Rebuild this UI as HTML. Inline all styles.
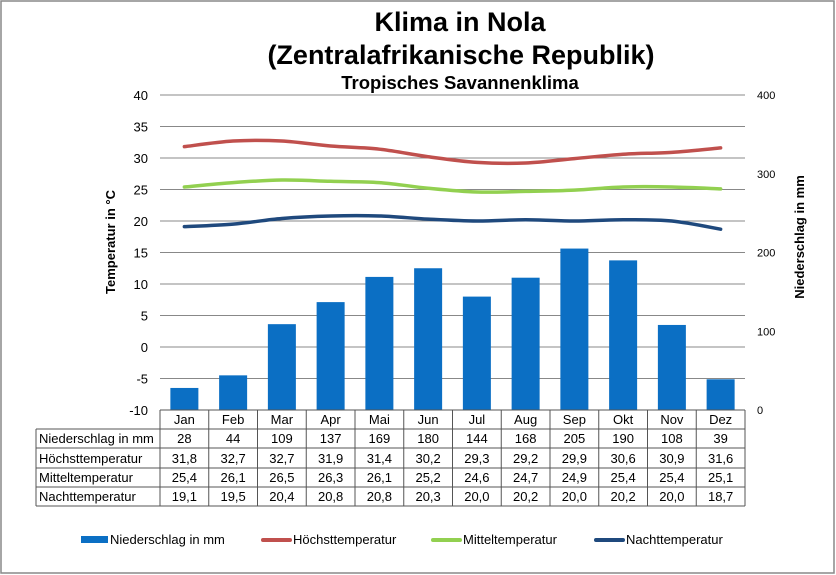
<!DOCTYPE html>
<html><head><meta charset="utf-8"><style>
body{margin:0;background:#fff;}
svg{display:block;font-family:"Liberation Sans",sans-serif;}
</style></head><body>
<svg id="s" width="836" height="575" xmlns="http://www.w3.org/2000/svg">
<rect x="1" y="1" width="833" height="572" fill="#fff" stroke="#888" stroke-width="1.5"/>
<text x="460" y="31" font-size="27" font-weight="bold" text-anchor="middle">Klima in Nola</text>
<text x="461" y="64" font-size="27" font-weight="bold" text-anchor="middle">(Zentralafrikanische Republik)</text>
<text x="460" y="89" font-size="18.5" font-weight="bold" text-anchor="middle">Tropisches Savannenklima</text>
<text transform="translate(115,242) rotate(-90)" font-size="13" font-weight="bold" text-anchor="middle">Temperatur in °C</text>
<text transform="translate(804,237) rotate(-90)" font-size="13" font-weight="bold" text-anchor="middle">Niederschlag in mm</text>
<g id="g"></g>
</svg>
<script>
const g=document.getElementById('g');let h='';
const L=160,R=745,cw=(R-L)/12;
const Y=t=>347-t*6.3, P=m=>410-m*0.7875;
for(let t=-10;t<=40;t+=5){h+=`<text x="148" y="${Y(t)+5}" font-size="13" text-anchor="end">${t}</text>`;
 if(t>-10)h+=`<line x1="${L}" x2="${R}" y1="${Y(t)}" y2="${Y(t)}" stroke="#888" stroke-width="1"/>`;}
for(let m=0;m<=400;m+=100)h+=`<text x="757" y="${P(m)+4}" font-size="11">${m}</text>`;
const mon=['Jan','Feb','Mar','Apr','Mai','Jun','Jul','Aug','Sep','Okt','Nov','Dez'];
const N=[28,44,109,137,169,180,144,168,205,190,108,39];
const Hh=[31.8,32.7,32.7,31.9,31.4,30.2,29.3,29.2,29.9,30.6,30.9,31.6];
const M=[25.4,26.1,26.5,26.3,26.1,25.2,24.6,24.7,24.9,25.4,25.4,25.1];
const Nt=[19.1,19.5,20.4,20.8,20.8,20.3,20.0,20.2,20.0,20.2,20.0,18.7];
const cx=i=>L+cw*(i+0.5);
N.forEach((v,i)=>{h+=`<rect x="${cx(i)-14}" y="${P(v)}" width="28" height="${410-P(v)}" fill="#0b6fc4"/>`;});
function curve(d,col){let pts=d.map((v,i)=>[cx(i),Y(v)]);let s=`M${pts[0]}`;
 for(let i=0;i<pts.length-1;i++){const p0=pts[i-1]||pts[i],p1=pts[i],p2=pts[i+1],p3=pts[i+2]||p2;
 const c1=[p1[0]+(p2[0]-p0[0])/6,p1[1]+(p2[1]-p0[1])/6],c2=[p2[0]-(p3[0]-p1[0])/6,p2[1]-(p3[1]-p1[1])/6];
 s+=` C${c1} ${c2} ${p2}`;}
 return `<path d="${s}" fill="none" stroke="${col}" stroke-width="3.5" stroke-linecap="round"/>`;}
h+=curve(Hh,'#c0504d')+curve(M,'#92d050')+curve(Nt,'#1f497d');
const rows=[[410,429],[429,448],[448,468],[468,487],[487,506]];
h+=`<line x1="${L}" x2="${R}" y1="410" y2="410" stroke="#555"/>`;
[429,448,468,487,506].forEach(y=>h+=`<line x1="36" x2="${R}" y1="${y}" y2="${y}" stroke="#555"/>`);
h+=`<line x1="36" x2="36" y1="429" y2="506" stroke="#555"/>`;
for(let i=0;i<=12;i++){const x=L+cw*i;h+=`<line x1="${x}" x2="${x}" y1="410" y2="506" stroke="#555"/>`;}
const labs=['Niederschlag in mm','Höchsttemperatur','Mitteltemperatur','Nachttemperatur'];
const dat=[N.map(String),Hh,M,Nt].map(a=>a.map(v=>typeof v==='number'?v.toFixed(1).replace('.',','):v));
mon.forEach((m,i)=>h+=`<text x="${cx(i)}" y="424" font-size="13" text-anchor="middle">${m}</text>`);
labs.forEach((l,r)=>{const y=rows[r+1][1]-5;h+=`<text x="39" y="${y}" font-size="13">${l}</text>`;
 dat[r].forEach((v,i)=>h+=`<text x="${cx(i)}" y="${y}" font-size="13" text-anchor="middle">${v}</text>`);});
h+=`<rect x="81" y="536" width="27" height="7" fill="#0b6fc4"/><text x="110" y="544" font-size="13">Niederschlag in mm</text>`;
[[263,'#c0504d','Höchsttemperatur'],[433,'#92d050','Mitteltemperatur'],[596,'#1f497d','Nachttemperatur']].forEach(([x,c,t])=>{
 h+=`<line x1="${x}" x2="${x+27}" y1="540" y2="540" stroke="${c}" stroke-width="4" stroke-linecap="round"/><text x="${x+30}" y="544" font-size="13">${t}</text>`;});
g.innerHTML=h;
</script>
</body></html>
